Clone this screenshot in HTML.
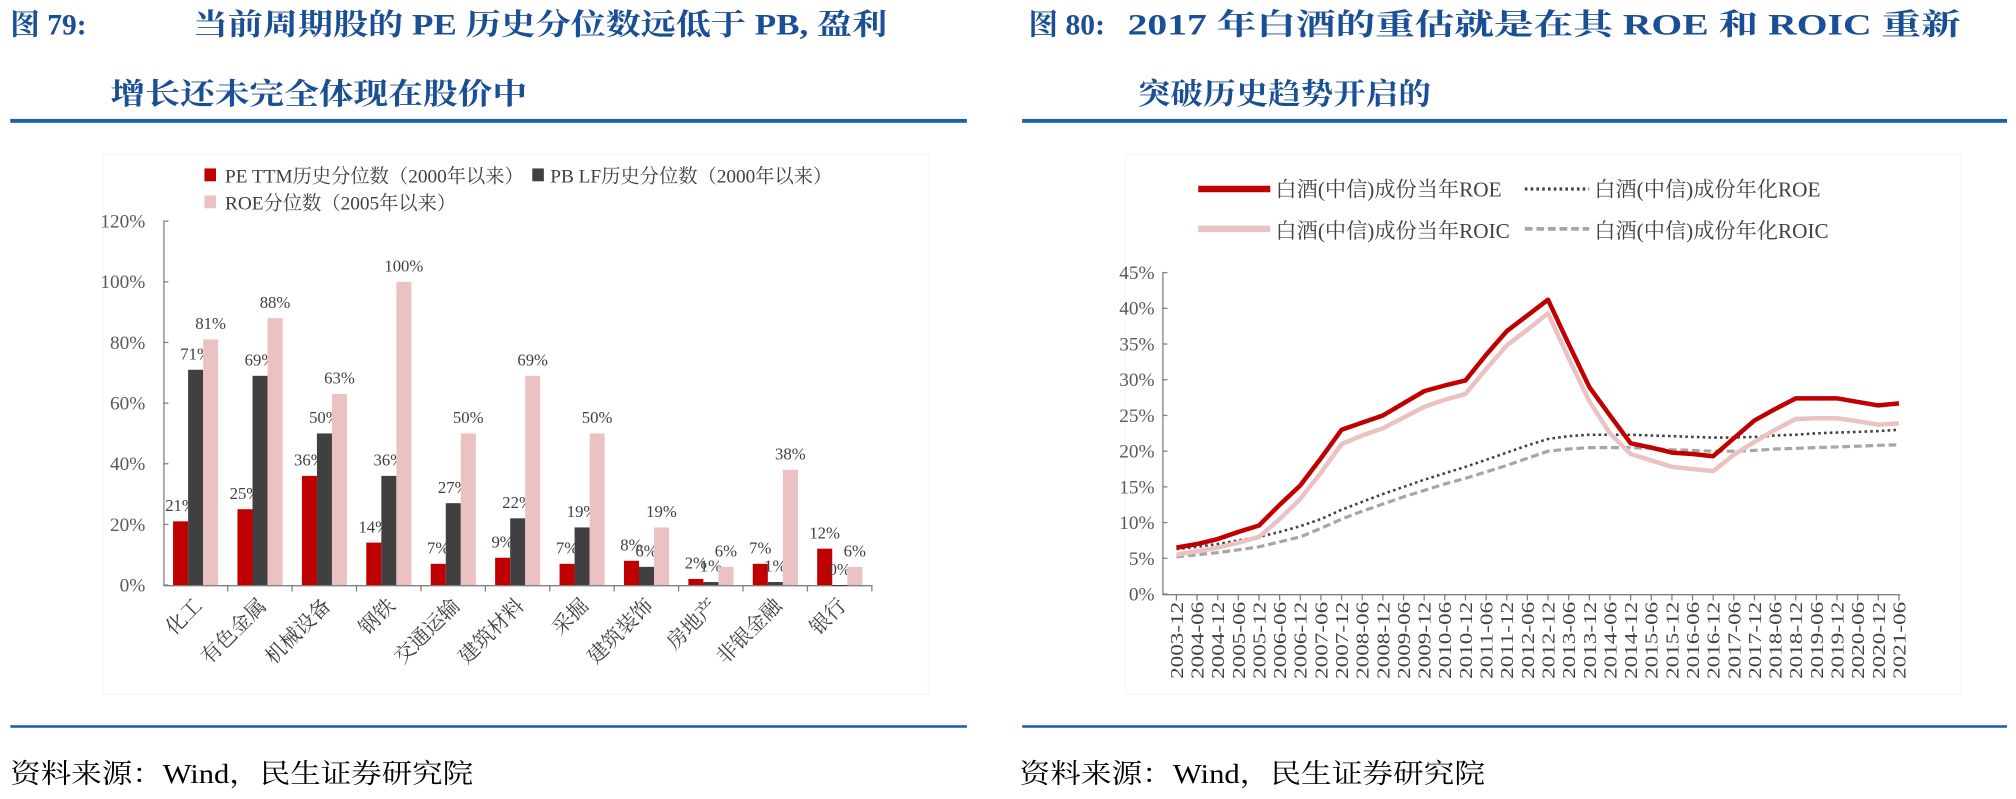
<!DOCTYPE html>
<html><head><meta charset="utf-8"><style>
html,body{margin:0;padding:0;background:#fff;}
svg{display:block}
text{font-family:"Liberation Serif","Noto Serif CJK SC","Noto Sans CJK SC",serif;}
</style></head><body>
<svg width="2016" height="799" viewBox="0 0 1568 621.4" preserveAspectRatio="none" xmlns="http://www.w3.org/2000/svg">
<g fill="#1a4f96" font-weight="bold" font-size="23">
<text x="8" y="27">图 79:</text>
<text x="150" y="27" textLength="540" lengthAdjust="spacingAndGlyphs">当前周期股的 PE 历史分位数远低于 PB, 盈利</text>
<text x="86" y="81" textLength="324" lengthAdjust="spacingAndGlyphs">增长还未完全体现在股价中</text>
<text x="800" y="27">图 80:</text>
<text x="877" y="27" textLength="648" lengthAdjust="spacingAndGlyphs">2017 年白酒的重估就是在其 ROE 和 ROIC 重新</text>
<text x="885" y="81" textLength="228" lengthAdjust="spacingAndGlyphs">突破历史趋势开启的</text>
</g>
<rect x="8" y="92.5" width="744" height="3" fill="#1f5fa8"/>
<rect x="795" y="92.5" width="766" height="3" fill="#1f5fa8"/>
<rect x="8" y="564" width="744" height="2" fill="#1f5fa8"/>
<rect x="795" y="564" width="766" height="2" fill="#1f5fa8"/>
<g font-size="21" fill="#000">
<text x="8" y="609" textLength="360" lengthAdjust="spacingAndGlyphs">资料来源：Wind，民生证券研究院</text>
<text x="793" y="609" textLength="362" lengthAdjust="spacingAndGlyphs">资料来源：Wind，民生证券研究院</text>
</g>
<rect x="80" y="120" width="642" height="420" fill="none" stroke="#f7f7f7"/>
<rect x="875" y="120" width="650" height="420" fill="none" stroke="#f7f7f7"/>
<g id="left"></g>
<g id="right"></g>
</svg>
<script>
var NS="http://www.w3.org/2000/svg";
function el(p,t,a,txt){var e=document.createElementNS(NS,t);for(var k in a)e.setAttribute(k,a[k]);if(txt!=null)e.textContent=txt;p.appendChild(e);return e;}
var L=document.getElementById('left');
el(L,'rect',{x:159,y:131,width:9,height:10,fill:'#c00000'});
el(L,'text',{x:175,y:142,'font-size':15,fill:'#404040'},'PE TTM历史分位数（2000年以来）');
el(L,'rect',{x:414,y:131,width:9,height:10,fill:'#404040'});
el(L,'text',{x:428,y:142,'font-size':15,fill:'#404040'},'PB LF历史分位数（2000年以来）');
el(L,'rect',{x:159,y:152,width:9,height:10,fill:'#ebc1c1'});
el(L,'text',{x:175,y:163,'font-size':15,fill:'#404040'},'ROE分位数（2005年以来）');
var y0=455,k=(455-172)/120;
el(L,'line',{x1:127.5,y1:172,x2:127.5,y2:455,stroke:'#808080'});
el(L,'line',{x1:127,y1:455.5,x2:678,y2:455.5,stroke:'#808080'});
for(var v=0;v<=120;v+=20){var y=y0-v*k;el(L,'text',{x:113,y:y+5,'font-size':15,fill:'#595959','text-anchor':'end'},v+'%');el(L,'line',{x1:127,y1:y,x2:131,y2:y,stroke:'#808080'});}
var cats=['化工','有色金属','机械设备','钢铁','交通运输','建筑材料','采掘','建筑装饰','房地产','非银金融','银行'];
var pe=[21,25,36,14,7,9,7,8,2,7,12],pb=[71,69,50,36,27,22,19,6,1,1,0],roe=[81,88,63,100,50,69,50,19,6,38,6];
var cw=50.1;
for(var i=0;i<11;i++){var x=127+i*cw;
el(L,'line',{x1:x+cw,y1:455,x2:x+cw,y2:460,stroke:'#808080'});
var s=[[pe[i],'#c00000'],[pb[i],'#404040'],[roe[i],'#ebc1c1']];
for(var j=0;j<3;j++){var bx=x+7.6+j*11.7,h=s[j][0]*k;
el(L,'rect',{x:bx,y:y0-h,width:11.7,height:Math.max(h,0.8),fill:s[j][1]});
el(L,'text',{x:bx+5.8,y:y0-h-8,'font-size':13,fill:'#404040','text-anchor':'middle'},s[j][0]+'%');}
el(L,'text',{x:x+31,y:472,'font-size':16,fill:'#404040','text-anchor':'end',transform:'rotate(-45 '+(x+31)+' 472)'},cats[i]);
}
var R=document.getElementById('right');
el(R,'line',{x1:932,y1:147,x2:988,y2:147,stroke:'#c00000','stroke-width':5});
el(R,'text',{x:992,y:153,'font-size':16.5,fill:'#404040'},'白酒(中信)成份当年ROE');
el(R,'line',{x1:1186,y1:147,x2:1236,y2:147,stroke:'#404040','stroke-width':2.5,'stroke-dasharray':'2 2.5'});
el(R,'text',{x:1240,y:153,'font-size':16.5,fill:'#404040'},'白酒(中信)成份年化ROE');
el(R,'line',{x1:932,y1:178,x2:988,y2:178,stroke:'#ebc1c1','stroke-width':5});
el(R,'text',{x:992,y:185,'font-size':16.5,fill:'#404040'},'白酒(中信)成份当年ROIC');
el(R,'line',{x1:1186,y1:178,x2:1236,y2:178,stroke:'#a6a6a6','stroke-width':3,'stroke-dasharray':'6 3'});
el(R,'text',{x:1240,y:185,'font-size':16.5,fill:'#404040'},'白酒(中信)成份年化ROIC');
var ry0=462,rk=(462-212)/45,ax=904,x0=915,dx=(1477-915)/35;
el(R,'line',{x1:ax+0.5,y1:212,x2:ax+0.5,y2:462,stroke:'#808080'});
el(R,'line',{x1:ax,y1:462.5,x2:1478,y2:462.5,stroke:'#808080'});
for(var v=0;v<=45;v+=5){var y=ry0-v*rk;el(R,'text',{x:898,y:y+5,'font-size':15,fill:'#595959','text-anchor':'end'},v+'%');el(R,'line',{x1:ax,y1:y,x2:ax+4,y2:y,stroke:'#808080'});}
var labs=['2003-12'];for(var yr=2004;yr<=2020;yr++){labs.push(yr+'-06');labs.push(yr+'-12');}labs.push('2021-06');
for(var i=0;i<36;i++){var x=x0+i*dx;el(R,'line',{x1:x,y1:462,x2:x,y2:467,stroke:'#808080'});
el(R,'text',{x:x+5,y:468,'font-size':14,fill:'#404040','text-anchor':'end',textLength:60,lengthAdjust:'spacingAndGlyphs',transform:'rotate(-90 '+(x+5)+' 468)'},labs[i]);}
function line(d,a){var p='';for(var i=0;i<d.length;i++)p+=(i?'L':'M')+(x0+i*dx).toFixed(1)+' '+(ry0-d[i]*rk).toFixed(1);a.d=p;a.fill='none';a['stroke-linejoin']='round';el(R,'path',a);}
var roeA=[6.3,6.6,7,7.5,8,8.7,9.5,10.5,11.8,12.9,14,15,16,16.9,17.8,18.8,19.8,20.8,21.7,22.1,22.3,22.3,22.3,22.2,22.1,22,21.9,21.9,22,22.2,22.3,22.5,22.6,22.7,22.8,23];
var roicA=[5.2,5.5,5.8,6.2,6.6,7.3,8,9.2,10.5,11.6,12.6,13.6,14.5,15.4,16.2,17.1,18,19,20,20.3,20.5,20.5,20.5,20.4,20.2,20.1,20,20,20.1,20.3,20.4,20.5,20.6,20.7,20.8,20.9];
var roic=[5.5,6,6.5,7.2,8,10.5,13.3,17,21,22.2,23.2,24.7,26.2,27.2,28,31.5,34.8,37,39.3,33,27,22.5,19.6,18.7,17.8,17.5,17.2,19.5,21.3,23,24.5,24.6,24.6,24.2,23.7,23.9];
var roeC=[6.5,7,7.7,8.7,9.6,12.5,15.2,19,23,24,25,26.7,28.4,29.2,29.9,33.5,36.8,39,41.2,35,29,25,21.1,20.5,19.8,19.6,19.3,21.8,24.3,25.9,27.4,27.4,27.4,26.9,26.4,26.7];
line(roicA,{stroke:'#a6a6a6','stroke-width':2.5,'stroke-dasharray':'6 3'});
line(roeA,{stroke:'#404040','stroke-width':2,'stroke-dasharray':'2 2.5'});
line(roic,{stroke:'#ebc1c1','stroke-width':3.5});
line(roeC,{stroke:'#c00000','stroke-width':3.5});
</script>
</body></html>
